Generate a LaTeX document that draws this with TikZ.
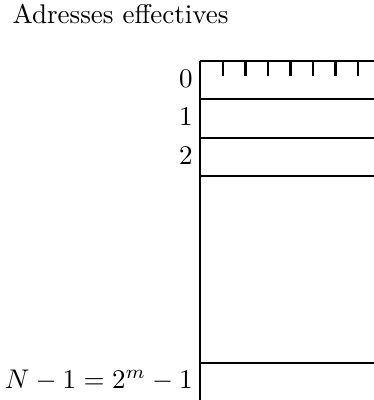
\documentclass[tikz,border=0pt]{standalone}
\usetikzlibrary{positioning, calc}
\tikzset{
    memline/.style={line width=0.9pt, color=black},
    addrlabel/.style={anchor=east, inner sep=2.5pt},
}
\begin{document}
\begin{tikzpicture}[x=0.37pt, y=-0.37pt]
    \useasboundingbox (0,0) rectangle (374,400);

    % Titre
    \node[anchor=west, inner sep=0pt] (titre) at (12,14) {Adresses effectives};

    % Bord gauche de la memoire
    \coordinate (haut) at (200,61);
    \coordinate (bas) at (200,400);
    \draw[memline] (haut) -- (bas);

    % Cases 0, 1, 2
    \foreach \y/\lab in {61/0, 99/1, 138/2} {
        \draw[memline] (200,\y) -- (374,\y);
        \node[addrlabel] (case\lab) at (200,\y+18) {$\lab$};
    }
    \draw[memline] (200,176) -- (374,176);

    % Derniere case
    \draw[memline] (200,363) -- (374,363);
    \node[addrlabel] (derniere) at (200,380) {$N-1=2^m-1$};

    % Graduations (bits)
    \foreach \i in {0,...,6}
        \draw[memline] (223+22.5*\i,61) -- ++(0,15);

\end{tikzpicture}
\end{document}
